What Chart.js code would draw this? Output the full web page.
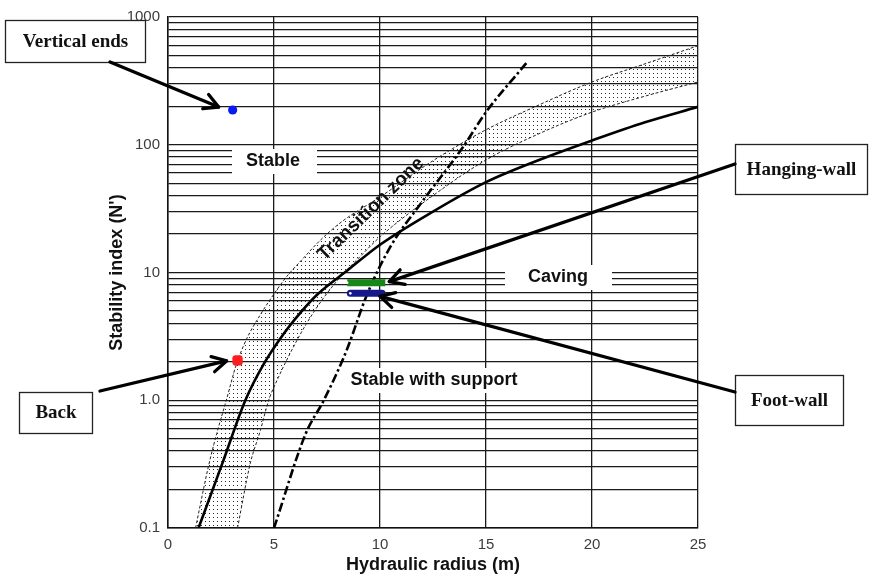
<!DOCTYPE html>
<html><head><meta charset="utf-8">
<script src="https://cdn.jsdelivr.net/npm/chart.js@4.4.0/dist/chart.umd.min.js"></script>
<style>html,body{margin:0;padding:0;background:#fff;}#wrap{width:874px;height:579px;}</style>
</head><body><div id="wrap"><canvas id="c" width="874" height="579"></canvas></div>
<script>
// ---- data ----
const xTicks = [0, 5, 10, 15, 20, 25];
const yTickValues = [0.1, 1, 10, 100, 1000];
const yTickLabels = ['0.1', '1.0', '10', '100', '1000'];

const upperX = [1.3, 1.9, 2.3, 2.75, 3.2, 3.7, 4.35, 5.0, 5.6, 6.3, 7.2, 8.2, 10, 12.5, 15, 17.5, 20, 22.5, 25];
const upperN = [0.1, 0.3, 0.55, 1.0, 1.85, 3.0, 4.65, 6.8, 9.3, 12.5, 18, 25, 39, 75, 131, 205, 310, 430, 596];

const lowerX = [3.28, 3.88, 4.35, 4.75, 5.2, 5.8, 6.5, 7.3, 8.2, 9.0, 10, 12.5, 15, 17.5, 20, 22.5, 25];
const lowerN = [0.1, 0.32, 0.575, 1.0, 1.5, 2.4, 3.9, 6.2, 9.5, 13, 19, 40, 76, 122, 180, 240, 310];

const solidX = [1.44, 2.55, 3.65, 4.5, 5.45, 6.25, 7.03, 8.5, 10, 12.5, 15, 17.5, 20, 22.5, 25];
const solidN = [0.1, 0.316, 1.0, 1.9, 3.3, 4.85, 6.7, 10.5, 16.5, 30, 51, 76, 108, 150, 198];

const supportX = [5.0, 6.5, 7.35, 8.4, 9.4, 10.5, 12.0, 13.9, 15.0, 16.9];
const supportN = [0.1, 0.55, 1.0, 2.4, 6.8, 16, 36, 95, 180, 435];

const hangingWallX = [8.45, 10.25];
const hangingWallN = [8.33, 8.33];
const footWallX = [8.6, 10.1];
const footWallN = [6.87, 6.87];
const verticalEndsX = [3.05];
const verticalEndsN = [187];
const backX = [3.28];
const backN = [2.05];

// ---- helpers ----
const pts = (xs, ns) => xs.map((x, i) => ({ x: x, y: ns[i] }));
const yGridValues = [];
[0.1, 1, 10, 100].forEach(d => { for (let k = 1; k <= 9; k++) yGridValues.push(parseFloat((k * d).toPrecision(6))); });
yGridValues.push(1000);

const canvas = document.getElementById('c');
const ctx = canvas.getContext('2d');
const pc = document.createElement('canvas'); pc.width = 4; pc.height = 4;
const pg = pc.getContext('2d'); pg.fillStyle = '#2a2a2a'; pg.fillRect(1, 1, 1, 1);
const dots = ctx.createPattern(pc, 'repeat');

const SANS = '"Liberation Sans", Arial, Helvetica, sans-serif';
const SERIF = '"Liberation Serif", "Times New Roman", serif';

function drawArrow(c, x0, y0, x1, y1) {
  const a = Math.atan2(y1 - y0, x1 - x0), L = 16, sp = 0.5;
  c.save();
  c.strokeStyle = '#000'; c.lineWidth = 3.3; c.lineCap = 'round'; c.lineJoin = 'round';
  c.beginPath(); c.moveTo(x0, y0); c.lineTo(x1, y1); c.stroke();
  c.beginPath();
  c.moveTo(x1 - L * Math.cos(a - sp), y1 - L * Math.sin(a - sp));
  c.lineTo(x1, y1);
  c.lineTo(x1 - L * Math.cos(a + sp), y1 - L * Math.sin(a + sp));
  c.stroke();
  c.restore();
}

const annot = {
  id: 'annot',
  beforeDatasetsDraw(chart) {
    const c = chart.ctx, area = chart.chartArea;
    const find = l => chart.data.datasets.findIndex(d => d.label === l);
    const mu = chart.getDatasetMeta(find('Transition upper'));
    const ml = chart.getDatasetMeta(find('Transition lower'));
    [mu, ml].forEach(m => { if (m.dataset && m.dataset.updateControlPoints) m.dataset.updateControlPoints(area, 'x'); });
    const U = mu.data, Lo = ml.data;
    c.save();
    c.beginPath(); c.rect(area.left, area.top, area.right - area.left, area.bottom - area.top); c.clip();
    c.beginPath();
    c.moveTo(U[0].x, U[0].y);
    for (let i = 1; i < U.length; i++) c.bezierCurveTo(U[i - 1].cp2x, U[i - 1].cp2y, U[i].cp1x, U[i].cp1y, U[i].x, U[i].y);
    const n = Lo.length - 1;
    c.lineTo(Lo[n].x, Lo[n].y);
    for (let i = n; i >= 1; i--) c.bezierCurveTo(Lo[i].cp1x, Lo[i].cp1y, Lo[i - 1].cp2x, Lo[i - 1].cp2y, Lo[i - 1].x, Lo[i - 1].y);
    c.closePath();
    c.fillStyle = dots; c.fill();
    c.restore();

    c.save();
    c.fillStyle = '#fff';
    c.fillRect(232, 149, 85, 25);
    c.fillRect(505, 265, 107, 25);
    c.fillRect(338, 368, 200, 25);
    c.fillStyle = '#111';
    c.font = 'bold 18px ' + SANS;
    c.textAlign = 'center'; c.textBaseline = 'middle';
    c.fillText('Stable', 273, 161);
    c.fillText('Caving', 558, 277);
    c.fillText('Stable with support', 434, 380);
    c.restore();
  },
  afterDatasetsDraw(chart) {
    const c = chart.ctx, xs = chart.scales.x, ys = chart.scales.y;
    c.save();
    c.translate(371, 209);
    c.rotate(-44 * Math.PI / 180);
    c.fillStyle = '#111'; c.font = 'bold 19px ' + SANS;
    c.textAlign = 'center'; c.textBaseline = 'middle';
    c.fillText('Transition zone', 0, 0);
    c.restore();

    const boxes = [
      { text: 'Vertical ends', x: 5, y: 20, w: 140, h: 42, from: [110, 62], to: [verticalEndsX[0], verticalEndsN[0]], off: [-14, -3] },
      { text: 'Back', x: 19, y: 392, w: 73, h: 41, from: [100, 391], to: [backX[0], backN[0]], off: [-11, 0.5] },
      { text: 'Hanging-wall', x: 735, y: 144, w: 132, h: 50, from: [735, 164], to: [hangingWallX[1], hangingWallN[1]], off: [4, -1] },
      { text: 'Foot-wall', x: 735, y: 375, w: 108, h: 50, from: [735, 392], to: [footWallX[1], footWallN[1]], off: [-2, 3] }
    ];
    boxes.forEach(b => {
      c.save();
      c.fillStyle = '#fff'; c.fillRect(b.x, b.y, b.w, b.h);
      c.strokeStyle = '#222'; c.lineWidth = 1.3; c.strokeRect(b.x + 0.5, b.y + 0.5, b.w, b.h);
      c.fillStyle = '#111'; c.font = 'bold 19px ' + SERIF;
      c.textAlign = 'center'; c.textBaseline = 'middle';
      c.fillText(b.text, b.x + b.w / 2 + 0.5, b.y + b.h / 2 + 1);
      c.restore();
      const tx = xs.getPixelForValue(b.to[0]) + b.off[0];
      const ty = ys.getPixelForValue(b.to[1]) + b.off[1];
      drawArrow(c, b.from[0], b.from[1], tx, ty);
    });
  }
};

const lineBase = { pointRadius: 0, pointHoverRadius: 0, cubicInterpolationMode: 'monotone', fill: false };

new Chart(ctx, {
  type: 'line',
  data: {
    datasets: [
      { label: 'Vertical ends', data: pts(verticalEndsX, verticalEndsN), showLine: false, pointRadius: 4.6, pointBackgroundColor: '#0a18f2', pointBorderWidth: 0 },
      { label: 'Back', data: pts(backX, backN), showLine: false, pointStyle: 'rectRounded', pointRadius: 6, pointBackgroundColor: '#ff1c1c', pointBorderWidth: 0 },
      { label: 'Hanging-wall', data: pts(hangingWallX, hangingWallN), borderColor: '#17871a', borderWidth: 7, borderCapStyle: 'butt', pointRadius: [1.3, 0], pointBackgroundColor: '#fff', pointBorderWidth: 0 },
      { label: 'Foot-wall', data: pts(footWallX, footWallN), borderColor: '#15188a', borderWidth: 7, borderCapStyle: 'round', pointRadius: [1.3, 0], pointBackgroundColor: '#fff', pointBorderWidth: 0 },
      Object.assign({ label: 'Stable-caving boundary', data: pts(solidX, solidN), borderColor: '#000', borderWidth: 2.6 }, lineBase),
      Object.assign({ label: 'Support boundary', data: pts(supportX, supportN), borderColor: '#000', borderWidth: 2.6, borderDash: [9, 3, 2.5, 3] }, lineBase),
      Object.assign({ label: 'Transition upper', data: pts(upperX, upperN), borderColor: '#222', borderWidth: 1, borderDash: [3, 2] }, lineBase),
      Object.assign({ label: 'Transition lower', data: pts(lowerX, lowerN), borderColor: '#222', borderWidth: 1, borderDash: [3, 2] }, lineBase)
    ]
  },
  options: {
    responsive: false, animation: false, devicePixelRatio: 1,
    layout: { padding: { left: 0, right: 176, top: 13, bottom: 0 } },
    plugins: { legend: { display: false }, tooltip: { enabled: false } },
    events: [],
    scales: {
      x: {
        type: 'linear', min: 0, max: 25,
        afterBuildTicks: s => { s.ticks = xTicks.map(v => ({ value: v })); },
        afterFit: s => { s.height = 51; },
        ticks: { padding: 8, color: '#3c3c3c', font: { family: SANS, size: 15 } },
        grid: { color: '#1a1a1a', lineWidth: 1.3, drawTicks: false },
        border: { color: '#111', width: 1.5 },
        title: { display: true, text: 'Hydraulic radius (m)', color: '#111', font: { family: SANS, size: 18, weight: 'bold' }, padding: { top: 0, bottom: 3 } }
      },
      y: {
        type: 'logarithmic', min: 0.1, max: 1000,
        afterBuildTicks: s => { s.ticks = yGridValues.map(v => ({ value: v })); },
        afterFit: s => { s.width = 168; },
        ticks: {
          autoSkip: false, padding: 8, color: '#3c3c3c', font: { family: SANS, size: 15 },
          callback: v => { const i = yTickValues.findIndex(t => Math.abs(t - v) / t < 1e-6); return i >= 0 ? yTickLabels[i] : ''; }
        },
        grid: { color: '#1a1a1a', lineWidth: 1.3, drawTicks: false },
        border: { color: '#111', width: 1.5 },
        title: { display: true, text: "Stability index (N')", color: '#111', font: { family: SANS, size: 18, weight: 'bold' }, padding: { top: 106, bottom: 0 } }
      }
    }
  },
  plugins: [annot]
});
</script>
</body></html>
